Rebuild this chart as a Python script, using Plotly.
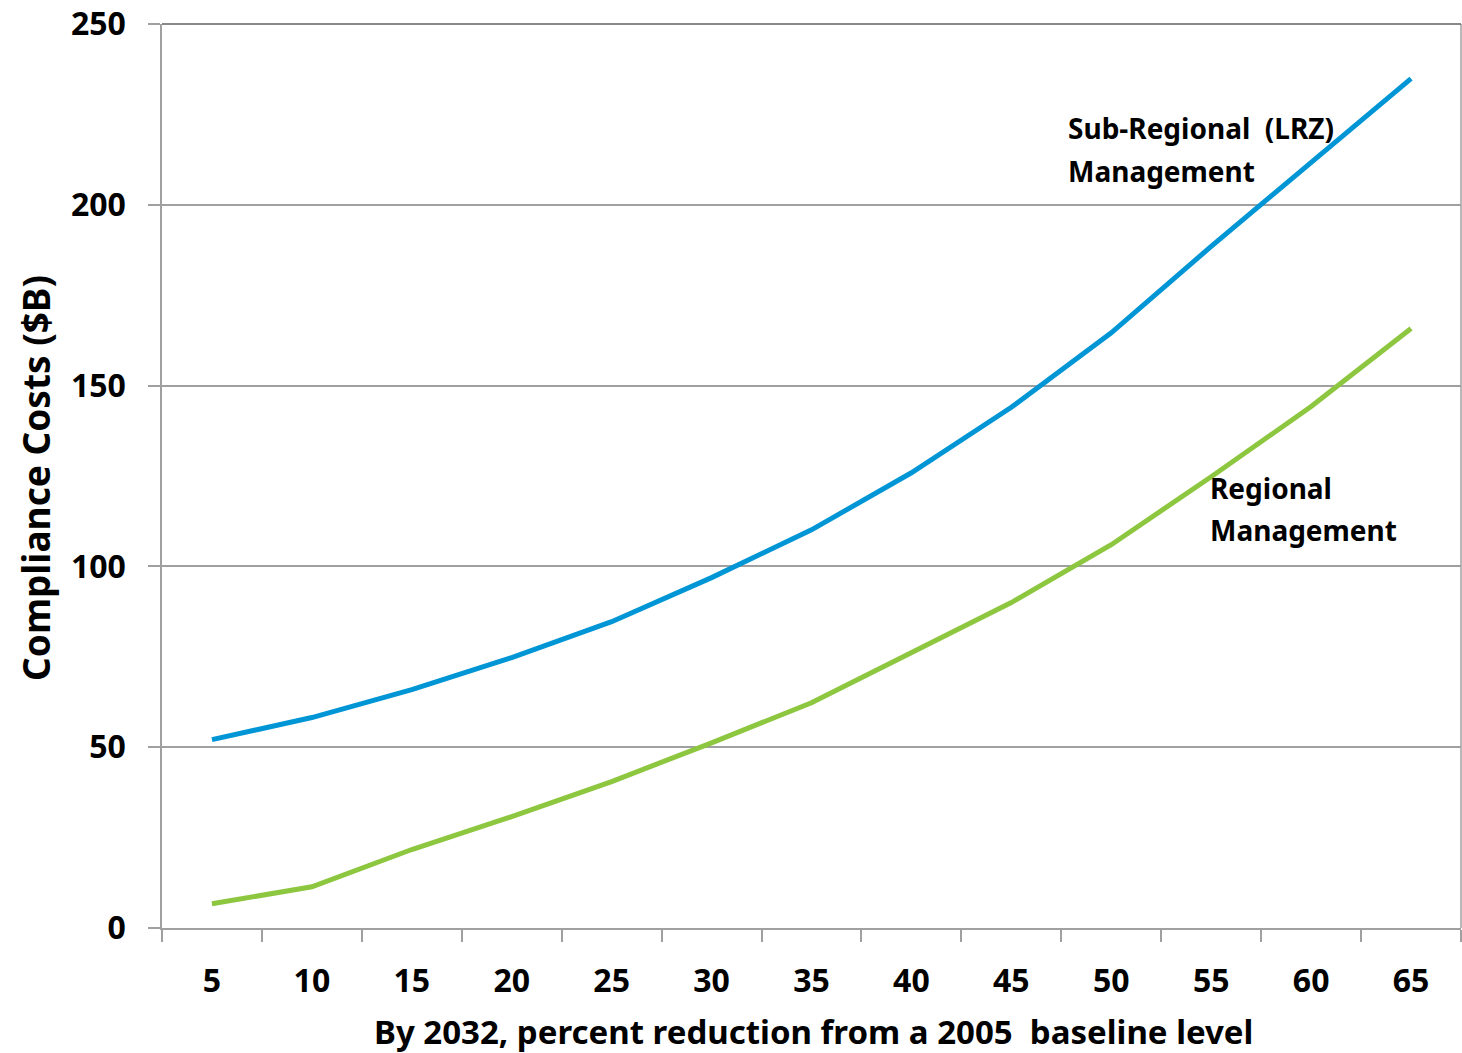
import plotly.graph_objects as go

categories = ["5", "10", "15", "20", "25", "30", "35", "40", "45", "50", "55", "60", "65"]
sub_regional = [52.1, 58.2, 65.9, 74.8, 84.7, 96.9, 110.1, 125.9, 144.0, 164.6, 188.5, 211.9, 234.9]
regional = [6.7, 11.4, 21.7, 30.8, 40.5, 51.2, 62.3, 76.1, 90.0, 106.0, 124.8, 144.2, 165.8]
y_ticks = [0, 50, 100, 150, 200, 250]

FONT = "Noto Sans"
W, H = 1462, 1053
L, R, T, B = 162, 1, 24, 125
PW, PH = W - L - R, H - T - B

def px_x(x):
    return (x - L) / PW

def px_y(y):
    return (H - B - y) / PH

fig = go.Figure()
fig.add_trace(go.Scatter(x=categories, y=sub_regional, mode="lines",
                         line=dict(color="#0096D6", width=5), name="Sub-Regional (LRZ) Management"))
fig.add_trace(go.Scatter(x=categories, y=regional, mode="lines",
                         line=dict(color="#8DC63F", width=5), name="Regional Management"))

ann_font = dict(family=FONT, size=28, color="black", weight="bold")
annotations = [
    dict(text="Sub-Regional  (LRZ)", x=px_x(1066), y=px_y(128), xanchor="left", yanchor="middle"),
    dict(text="Management", x=px_x(1066), y=px_y(171), xanchor="left", yanchor="middle"),
    dict(text="Regional", x=px_x(1208), y=px_y(488), xanchor="left", yanchor="middle"),
    dict(text="Management", x=px_x(1208), y=px_y(530), xanchor="left", yanchor="middle"),
    dict(text="By 2032, percent reduction from a 2005  baseline level", x=px_x(813), y=px_y(1031),
         xanchor="center", yanchor="middle", font=dict(family=FONT, size=33, color="black", weight="bold")),
    dict(text="Compliance Costs ($B)", x=px_x(35), y=px_y(478), xanchor="center", yanchor="middle",
         textangle=-90, font=dict(family=FONT, size=37, color="black", weight="bold")),
]
for a in annotations:
    a.setdefault("font", ann_font)
    a.update(xref="paper", yref="paper", showarrow=False)

fig.update_layout(
    width=W, height=H,
    margin=dict(l=L, r=R, t=T, b=B, autoexpand=False),
    paper_bgcolor="white", plot_bgcolor="white",
    showlegend=False,
    annotations=annotations,
    font=dict(family=FONT, color="black"),
)
fig.update_xaxes(
    type="category", range=[-0.5, len(categories) - 0.5],
    tickson="boundaries", ticks="outside", ticklen=12, tickcolor="#A0A0A0",
    tickwidth=1.5, showline=True, linecolor="#A0A0A0", linewidth=1.5, mirror=False,
    showgrid=False, tickfont=dict(family=FONT, size=32, color="black", weight="bold"),
    ticklabelstandoff=24,
)
fig.update_yaxes(
    range=[0, 250], tickvals=y_ticks, ticks="outside", ticklen=12, tickcolor="#A0A0A0", tickwidth=1.5,
    showline=True, linecolor="#A0A0A0", linewidth=1.5, showgrid=True, gridcolor="#A0A0A0", gridwidth=1.5,
    zeroline=False, tickfont=dict(family=FONT, size=32, color="black", weight="bold"),
    ticklabelstandoff=16,
)
# right and top border of plot area
fig.add_shape(type="line", xref="paper", yref="paper", x0=1, x1=1, y0=0, y1=1,
              line=dict(color="#A0A0A0", width=1.5))
fig.add_shape(type="line", xref="paper", yref="paper", x0=0, x1=1, y0=1, y1=1,
              line=dict(color="#606060", width=1.5))

fig.write_html("out.html")
